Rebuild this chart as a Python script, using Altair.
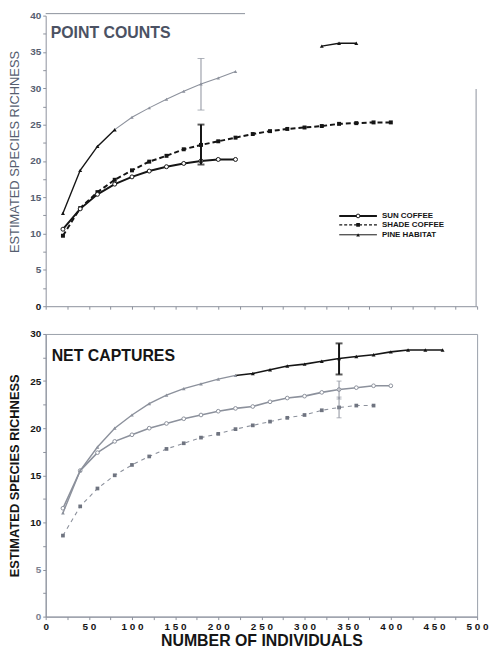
import altair as alt
import pandas as pd

# ---------------- data ----------------
# Top panel: POINT COUNTS
pc_sun_x = [20, 40, 60, 80, 100, 120, 140, 160, 180, 200, 220]
pc_sun_y = [10.6, 13.4, 15.4, 16.8, 17.8, 18.6, 19.2, 19.65, 20.0, 20.2, 20.2]

pc_shade_x = [20, 40, 60, 80, 100, 120, 140, 160, 180, 200, 220, 240, 260, 280, 300, 320, 340, 360, 380, 400]
pc_shade_y = [9.7, 13.5, 15.7, 17.4, 18.7, 19.9, 20.7, 21.6, 22.2, 22.7, 23.2, 23.7, 24.1, 24.4, 24.6, 24.8, 25.1, 25.2, 25.3, 25.3]

pc_pine_x = [20, 40, 60, 80, 100, 120, 140, 160, 180, 200, 220, 320, 340, 360]
pc_pine_y = [12.8, 18.7, 22.0, 24.3, 26.0, 27.3, 28.5, 29.6, 30.6, 31.4, 32.3, 35.8, 36.2, 36.2]

pc_err_x = [180, 180]
pc_err_lo = [27.0, 19.5]
pc_err_hi = [34.1, 25.0]

# Bottom panel: NET CAPTURES
nc_pine_x = [20, 40, 60, 80, 100, 120, 140, 160, 180, 200, 220, 240, 260, 280, 300, 320, 340, 360, 380, 400, 420, 440, 460]
nc_pine_y = [11.0, 15.5, 18.0, 20.0, 21.4, 22.6, 23.5, 24.2, 24.7, 25.2, 25.6, 25.8, 26.2, 26.6, 26.8, 27.1, 27.4, 27.6, 27.8, 28.1, 28.3, 28.3, 28.3]

nc_sun_x = [20, 40, 60, 80, 100, 120, 140, 160, 180, 200, 220, 240, 260, 280, 300, 320, 340, 360, 380, 400]
nc_sun_y = [11.5, 15.5, 17.4, 18.6, 19.3, 20.0, 20.5, 21.0, 21.4, 21.8, 22.1, 22.3, 22.8, 23.2, 23.4, 23.8, 24.1, 24.3, 24.5, 24.5]

nc_shade_x = [20, 40, 60, 80, 100, 120, 140, 160, 180, 200, 220, 240, 260, 280, 300, 320, 340, 360, 380]
nc_shade_y = [8.6, 11.7, 13.6, 15.0, 16.1, 17.0, 17.8, 18.4, 19.0, 19.4, 19.9, 20.3, 20.7, 21.1, 21.4, 21.9, 22.2, 22.4, 22.4]

nc_err_x = [340, 340, 340]
nc_err_lo = [25.7, 23.1, 21.1]
nc_err_hi = [29.0, 25.0, 23.3]

legend_labels = ["SUN COFFEE", "SHADE COFFEE", "PINE HABITAT"]
panel_titles = ["POINT COUNTS", "NET CAPTURES"]
y_title = "ESTIMATED SPECIES RICHNESS"
x_title = "NUMBER OF INDIVIDUALS"
x_ticks = [0, 25, 50, 75, 100, 125, 150, 175, 200, 225, 250, 275, 300, 325, 350, 375, 400, 425, 450, 475, 500]
y_ticks_top = [0, 2.5, 5, 7.5, 10, 12.5, 15, 17.5, 20, 22.5, 25, 27.5, 30, 32.5, 35, 37.5, 40]
y_ticks_bot = [0, 2.5, 5, 7.5, 10, 12.5, 15, 17.5, 20, 22.5, 25, 27.5, 30]

FONT = "Liberation Sans"
NARROW = "Liberation Sans Narrow, Liberation Sans"
BLACK = "#151515"
GREY = "#8c919c"
SLATE = "#565e70"

W = 435
H_TOP = 293
H_BOT = 285

# ---------------- scales / axes ----------------
x_scale = alt.Scale(domain=[0, 500], nice=False, zero=False)

x_axis_top = alt.Axis(values=x_ticks, labels=False, ticks=True, tickSize=3, title=None,
                      domainColor=GREY, tickColor=GREY, grid=False)
x_axis_bot = alt.Axis(values=x_ticks, labelExpr="datum.value % 50 == 0 ? join(split(datum.label, ''), ' ') : ''",
                      labelOverlap=False, labelFlush=False, labelFont=FONT, labelFontSize=10,
                      labelFontWeight="bold", labelColor=BLACK, labelPadding=2, tickSize=3,
                      domainColor=GREY, tickColor=GREY,
                      title=x_title, titleFont=FONT, titleFontSize=16, titleFontWeight="bold",
                      titleColor=BLACK, titlePadding=1, grid=False)

y_axis_top = alt.Axis(values=y_ticks_top, labelExpr="datum.value % 5 == 0 ? datum.label : ''",
                      labelFont=FONT, labelFontSize=10, labelFontWeight="bold",
                      labelColor={"condition": {"test": "datum.value == 0", "value": BLACK}, "value": SLATE},
                      labelPadding=2, tickSize=3, domainColor=GREY, tickColor=GREY, grid=False,
                      title=y_title, titleFont=FONT, titleFontSize=13, titleFontWeight="normal",
                      titleColor=SLATE, titlePadding=8, titleY=137)
y_axis_bot = alt.Axis(values=y_ticks_bot, labelExpr="datum.value % 5 == 0 ? datum.label : ''",
                      labelFont=FONT, labelFontSize=10, labelFontWeight="bold",
                      labelColor={"condition": {"test": "datum.value <= 5", "value": "#7d8290"}, "value": BLACK},
                      labelPadding=2, tickSize=3, domainColor=GREY, tickColor=GREY, grid=False,
                      title=y_title, titleFont=FONT, titleFontSize=13, titleFontWeight="bold",
                      titleColor=BLACK, titlePadding=8)


def enc(xax, yax, ymax, yfield="y"):
    return dict(
        x=alt.X("x:Q", scale=x_scale, axis=xax),
        y=alt.Y(f"{yfield}:Q", scale=alt.Scale(domain=[0, ymax], nice=False), axis=yax),
    )


def line_layer(xs, ys, e, color, width, dash=None):
    df = pd.DataFrame({"x": xs, "y": ys})
    kw = dict(color=color, strokeWidth=width)
    if dash:
        kw["strokeDash"] = dash
    return alt.Chart(df).mark_line(**kw).encode(**e)


def point_layer(xs, ys, e, shape, color, size, open_fill=False):
    df = pd.DataFrame({"x": xs, "y": ys})
    if open_fill:
        m = alt.Chart(df).mark_point(shape=shape, filled=True, fill="white", stroke=color,
                                     strokeWidth=1, size=size, opacity=1)
    else:
        m = alt.Chart(df).mark_point(shape=shape, filled=True, color=color, size=size, opacity=1)
    return m.encode(**e)


def err_layers(xs, lo, hi, e, color, width, cap):
    df = pd.DataFrame({"x": xs, "y": lo, "y2": hi})
    rule = alt.Chart(df).mark_rule(color=color, strokeWidth=width).encode(**e, y2="y2:Q")
    ends = pd.DataFrame({"x": list(xs) + list(xs), "y": list(lo) + list(hi)})
    caps = alt.Chart(ends).mark_tick(orient="horizontal", color=color, size=cap,
                                     thickness=width).encode(**e)
    return [rule, caps]


def legend_row(ypix, label, color, width, dash, shape, open_fill):
    kw = dict(color=color, strokeWidth=width)
    if dash:
        kw["strokeDash"] = dash
    ln = alt.Chart().mark_rule(**kw).encode(x=alt.value(296), x2=alt.value(334), y=alt.value(ypix))
    if open_fill:
        pt = alt.Chart().mark_point(shape=shape, filled=True, fill="white", stroke=color,
                                    strokeWidth=1, size=14, opacity=1)
    else:
        pt = alt.Chart().mark_point(shape=shape, filled=True, color=color, size=14, opacity=1)
    pt = pt.encode(x=alt.value(315), y=alt.value(ypix))
    tx = alt.Chart().mark_text(align="left", baseline="middle", font=NARROW, fontSize=8,
                               fontWeight="bold", color=BLACK).encode(
        x=alt.value(339), y=alt.value(ypix), text=alt.value(label))
    return [ln, pt, tx]


# ---------------- top panel ----------------
et = enc(x_axis_top, y_axis_top, 40)
top_layers = []
# pine habitat: drawn in three tone segments as in the scan
top_layers.append(line_layer(pc_pine_x[0:4], pc_pine_y[0:4], et, BLACK, 1.4))
top_layers.append(line_layer(pc_pine_x[3:11], pc_pine_y[3:11], et, GREY, 1.1))
top_layers.append(line_layer(pc_pine_x[11:], pc_pine_y[11:], et, BLACK, 1.4))
top_layers.append(point_layer(pc_pine_x[0:4], pc_pine_y[0:4], et, "triangle-up", BLACK, 16))
top_layers.append(point_layer(pc_pine_x[4:11], pc_pine_y[4:11], et, "triangle-up", GREY, 12))
top_layers.append(point_layer(pc_pine_x[11:], pc_pine_y[11:], et, "triangle-up", BLACK, 16))
# shade coffee
top_layers.append(line_layer(pc_shade_x, pc_shade_y, et, BLACK, 2, [5, 3]))
top_layers.append(point_layer(pc_shade_x, pc_shade_y, et, "square", BLACK, 16))
# sun coffee
top_layers.append(line_layer(pc_sun_x, pc_sun_y, et, BLACK, 2))
top_layers.append(point_layer(pc_sun_x, pc_sun_y, et, "circle", BLACK, 16, open_fill=True))
# error bars
top_layers += err_layers(pc_err_x[:1], pc_err_lo[:1], pc_err_hi[:1], et, GREY, 1, 7)
top_layers += err_layers(pc_err_x[1:], pc_err_lo[1:], pc_err_hi[1:], et, BLACK, 2, 7)
# frame pieces
top_layers.append(alt.Chart().mark_rule(color=GREY, strokeWidth=1).encode(
    x=alt.value(0), x2=alt.value(201), y=alt.value(-2)))
top_layers.append(alt.Chart().mark_rule(color=GREY, strokeWidth=1).encode(
    x=alt.value(W - 1), y=alt.value(74), y2=alt.value(H_TOP)))
# panel title
top_layers.append(alt.Chart().mark_text(align="left", baseline="top", font=FONT, fontSize=16,
                                        fontWeight="bold", color="#4b5263").encode(
    x=alt.value(5), y=alt.value(10), text=alt.value(panel_titles[0])))
# legend
top_layers += legend_row(202, legend_labels[0], BLACK, 2, None, "circle", True)
top_layers += legend_row(211, legend_labels[1], BLACK, 1.5, [3, 2], "square", False)
top_layers += legend_row(221, legend_labels[2], BLACK, 1, None, "triangle-up", False)

top = alt.layer(*top_layers).properties(width=W, height=H_TOP,
                                         view=alt.ViewBackground(stroke=None))

# ---------------- bottom panel ----------------
eb = enc(x_axis_bot, y_axis_bot, 30)
bot_layers = []
# shade coffee
bot_layers.append(line_layer(nc_shade_x, nc_shade_y, eb, GREY, 1.1, [4, 4]))
bot_layers.append(point_layer(nc_shade_x, nc_shade_y, eb, "square", "#6f7480", 14))
# sun coffee
bot_layers.append(line_layer(nc_sun_x, nc_sun_y, eb, GREY, 1.6))
bot_layers.append(point_layer(nc_sun_x, nc_sun_y, eb, "circle", GREY, 14, open_fill=True))
# pine habitat (grey then black in the scan)
bot_layers.append(line_layer(nc_pine_x[0:11], nc_pine_y[0:11], eb, GREY, 1.4))
bot_layers.append(line_layer(nc_pine_x[10:], nc_pine_y[10:], eb, BLACK, 1.6))
bot_layers.append(point_layer(nc_pine_x[0:11], nc_pine_y[0:11], eb, "triangle-up", GREY, 14))
bot_layers.append(point_layer(nc_pine_x[11:], nc_pine_y[11:], eb, "triangle-up", BLACK, 16))
# error bars
bot_layers += err_layers(nc_err_x[1:], nc_err_lo[1:], nc_err_hi[1:], eb, GREY, 1, 5)
bot_layers += err_layers(nc_err_x[:1], nc_err_lo[:1], nc_err_hi[:1], eb, BLACK, 2, 7)
# panel title
bot_layers.append(alt.Chart().mark_text(align="left", baseline="top", font=FONT, fontSize=16,
                                        fontWeight="bold", color=BLACK).encode(
    x=alt.value(6), y=alt.value(14), text=alt.value(panel_titles[1])))

bottom = alt.layer(*bot_layers).properties(width=W, height=H_BOT,
                                            view=alt.ViewBackground(stroke="#9aa0aa", strokeWidth=1))

chart = alt.vconcat(top, bottom, spacing=17).properties(padding=0, background="white")

chart.save("out.html", embed_options={"renderer": "svg", "actions": False})
